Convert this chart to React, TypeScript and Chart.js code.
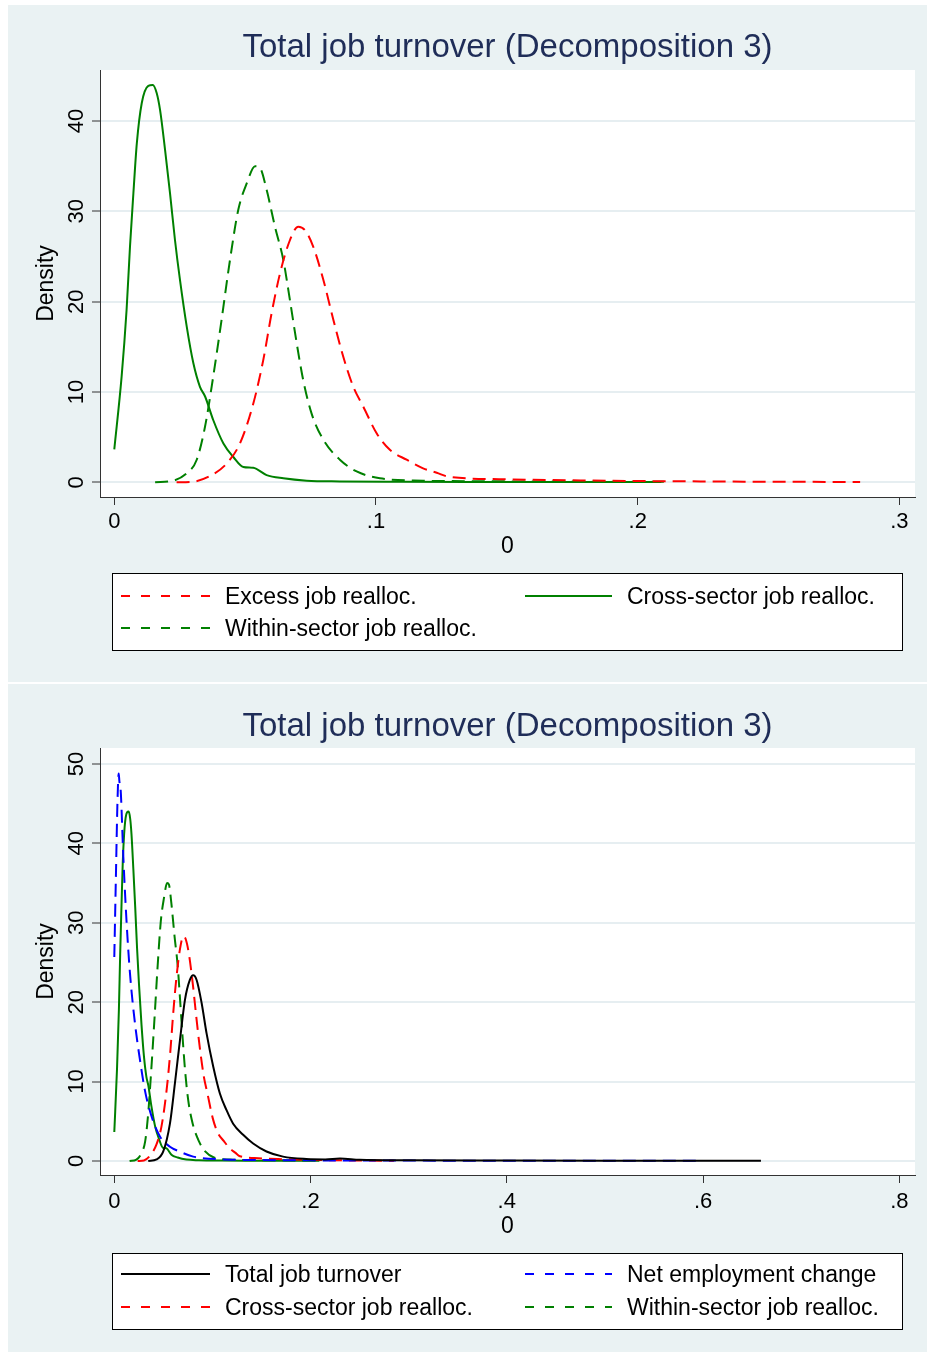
import React, { useEffect, useRef } from 'react';
import { Chart, registerables } from 'chart.js';

Chart.register(...registerables);

const FONT = "'Liberation Sans', Arial, Helvetica, sans-serif";
const TITLE = 'Total job turnover (Decomposition 3)';
const Y_TITLE = 'Density';
const X_TITLE = '0';

// ---- Cross-sector job realloc. (green solid) ----
const crossX = [0, 0.0028, 0.0047, 0.006, 0.0073, 0.0086, 0.0105, 0.013, 0.0147, 0.0162, 0.0175, 0.0194, 0.0213, 0.0232, 0.0251, 0.0277, 0.0302, 0.0327, 0.0347, 0.0378, 0.0417, 0.0455, 0.0493, 0.0531, 0.0582, 0.0646, 0.0735, 0.0862, 0.11, 0.14, 0.17, 0.209];
const crossY = [3.65, 11.7, 19.1, 26.1, 32, 37.5, 42, 43.9, 44.0, 43.1, 41.2, 36.8, 32, 26.8, 22.4, 17.2, 13.2, 10.6, 9.5, 6.9, 4.3, 2.8, 1.7, 1.6, 0.8, 0.44, 0.18, 0.1, 0.06, 0.04, 0.03, 0.02];

// ---- Within-sector job realloc. (green dashed) ----
const withinX = [0.0156, 0.0225, 0.0277, 0.0315, 0.0347, 0.0378, 0.041, 0.0442, 0.0474, 0.0506, 0.0538, 0.0557, 0.0582, 0.0614, 0.0646, 0.0671, 0.0697, 0.0722, 0.0754, 0.0799, 0.0862, 0.0926, 0.1015, 0.118, 0.14, 0.17, 0.21];
const withinY = [0, 0.18, 1.0, 2.5, 6.2, 11.7, 18, 24.6, 30.2, 33.1, 35, 34.8, 32.4, 28.3, 24.6, 20.2, 15.4, 11.3, 7.6, 4.7, 2.5, 1.2, 0.44, 0.18, 0.12, 0.08, 0.05];

// ---- Excess job realloc. (red dashed) ----
const excessX = [0.0238, 0.0302, 0.0366, 0.043, 0.048, 0.0531, 0.0569, 0.0601, 0.0633, 0.0671, 0.0703, 0.0729, 0.076, 0.0799, 0.0837, 0.0875, 0.0913, 0.0951, 0.1003, 0.1053, 0.1117, 0.118, 0.1232, 0.128, 0.147, 0.167, 0.2, 0.224, 0.25, 0.285];
const excessY = [0, 0.07, 0.7, 2.1, 4.3, 8.7, 13.5, 18.7, 23.1, 26.8, 28.3, 27.9, 26.1, 22.4, 18, 13.9, 10.6, 8.4, 5.4, 3.6, 2.5, 1.55, 1.06, 0.6, 0.35, 0.25, 0.14, 0.1, 0.06, 0.04];

// ---- Total job turnover (black solid) ----
const totalX = [0.0346, 0.0431, 0.0499, 0.0567, 0.0618, 0.0669, 0.072, 0.077, 0.0804, 0.0839, 0.089, 0.094, 0.1008, 0.1076, 0.1144, 0.1211, 0.1313, 0.1415, 0.1551, 0.172, 0.1958, 0.215, 0.23, 0.25, 0.3, 0.4, 0.5, 0.6, 0.659];
const totalY = [0, 0.2, 1.2, 4.7, 9.8, 15.2, 20.3, 22.8, 23.4, 22.8, 19.9, 16.1, 11.9, 8.5, 6.4, 4.7, 3.3, 2.2, 1.2, 0.55, 0.25, 0.2, 0.3, 0.15, 0.08, 0.05, 0.04, 0.03, 0.02];

// ---- Net employment change (blue dashed) ----
const netX = [0, 0.0017, 0.0031, 0.0045, 0.0052, 0.0065, 0.0092, 0.0126, 0.016, 0.0211, 0.0262, 0.0312, 0.038, 0.0465, 0.0567, 0.0669, 0.0804, 0.111, 0.15, 0.2, 0.3, 0.4, 0.5, 0.596];
const netY = [25.7, 36.2, 44.6, 48.8, 47.8, 46.7, 38.3, 29.9, 23.6, 17.3, 12.7, 8.9, 5.6, 3.1, 1.8, 1.17, 0.55, 0.2, 0.12, 0.08, 0.05, 0.04, 0.03, 0.02];

// ---- Ticks ----
const topXTicks = [0, 0.1, 0.2, 0.3];
const topXTickLabels = ['0', '.1', '.2', '.3'];
const topYTicks = [0, 10, 20, 30, 40];
const topYTickLabels = ['0', '10', '20', '30', '40'];
const botXTicks = [0, 0.2, 0.4, 0.6, 0.8];
const botXTickLabels = ['0', '.2', '.4', '.6', '.8'];
const botYTicks = [0, 10, 20, 30, 40, 50];
const botYTickLabels = ['0', '10', '20', '30', '40', '50'];

const RED = '#FF0000';
const GREEN = '#008000';
const BLUE = '#0000FF';
const BLACK = '#000000';
const BG = '#EAF2F3';
const GRID = '#E6EEF1';
const AXIS = '#333333';
const TITLE_COLOR = '#1F2D58';

type Series = { label: string; xs: number[]; ys: number[]; color: string; dashed: boolean };
type LegendItem = { series: number; col: number; row: number };

type PanelProps = {
  left: number;
  top: number;
  width: number;
  height: number;
  series: Series[];
  legend: LegendItem[];
  xMin: number;
  xMax: number;
  yMin: number;
  yMax: number;
  xTicks: number[];
  xTickLabels: string[];
  yTicks: number[];
  yTickLabels: string[];
  areaTop: number;
  areaBottom: number;
  tickBase: number;
  xTitleBase: number;
  legendTop: number;
  legendBottom: number;
  rowLineY: number[];
};

const AREA_LEFT = 92;
const AREA_RIGHT = 907;
const XAXIS_H = 60;

function Panel(p: PanelProps) {
  const ref = useRef<HTMLCanvasElement | null>(null);

  useEffect(() => {
    const canvas = ref.current;
    if (!canvas) return;

    const panelPlugin = {
      id: 'panelDeco',
      beforeDraw(chart: any) {
        const { ctx, chartArea: a } = chart;
        ctx.save();
        ctx.fillStyle = BG;
        ctx.fillRect(0, 0, chart.width, chart.height);
        ctx.fillStyle = '#FFFFFF';
        ctx.fillRect(a.left, a.top, a.right - a.left, a.bottom - a.top);
        ctx.restore();
      },
      afterDraw(chart: any) {
        const { ctx, chartArea: a, scales } = chart;
        const xs = scales.x;
        const ys = scales.y;
        ctx.save();
        // Title
        ctx.fillStyle = TITLE_COLOR;
        ctx.font = `33px ${FONT}`;
        ctx.textAlign = 'center';
        ctx.textBaseline = 'alphabetic';
        ctx.fillText(TITLE, (a.left + a.right) / 2, 52);

        // Y tick labels (rotated)
        ctx.fillStyle = '#000000';
        ctx.font = `22px ${FONT}`;
        p.yTicks.forEach((v, i) => {
          const y = ys.getPixelForValue(v);
          ctx.save();
          ctx.translate(75, y);
          ctx.rotate(-Math.PI / 2);
          ctx.textAlign = 'center';
          ctx.textBaseline = 'alphabetic';
          ctx.fillText(p.yTickLabels[i], 0, 0);
          ctx.restore();
        });
        // Y title
        ctx.save();
        ctx.font = `23px ${FONT}`;
        ctx.translate(45, (a.top + a.bottom) / 2);
        ctx.rotate(-Math.PI / 2);
        ctx.textAlign = 'center';
        ctx.textBaseline = 'alphabetic';
        ctx.fillText(Y_TITLE, 0, 0);
        ctx.restore();

        // X tick labels
        ctx.font = `22px ${FONT}`;
        ctx.textAlign = 'center';
        ctx.textBaseline = 'alphabetic';
        p.xTicks.forEach((v, i) => {
          ctx.fillText(p.xTickLabels[i], xs.getPixelForValue(v), p.tickBase);
        });
        // X title
        ctx.font = `23px ${FONT}`;
        ctx.fillText(X_TITLE, (a.left + a.right) / 2, p.xTitleBase);

        // Legend box
        ctx.fillStyle = '#FFFFFF';
        ctx.fillRect(104, p.legendTop, 790, p.legendBottom - p.legendTop);
        ctx.strokeStyle = '#000000';
        ctx.lineWidth = 1;
        ctx.strokeRect(104.5, p.legendTop + 0.5, 790, p.legendBottom - p.legendTop);

        const colLine = [
          [113, 202],
          [517, 604],
        ];
        const colText = [217, 619];
        p.legend.forEach((it) => {
          const s = p.series[it.series];
          const ly = p.rowLineY[it.row];
          ctx.save();
          ctx.strokeStyle = s.color;
          ctx.lineWidth = 2;
          ctx.setLineDash(s.dashed ? [9, 11] : []);
          ctx.beginPath();
          ctx.moveTo(colLine[it.col][0], ly);
          ctx.lineTo(colLine[it.col][1], ly);
          ctx.stroke();
          ctx.restore();
          ctx.fillStyle = '#000000';
          ctx.font = `23px ${FONT}`;
          ctx.textAlign = 'left';
          ctx.textBaseline = 'alphabetic';
          ctx.fillText(s.label, colText[it.col], ly + 8);
        });
        ctx.restore();
      },
    };

    const chart = new Chart(canvas, {
      type: 'line',
      data: {
        datasets: p.series.map((s) => ({
          label: s.label,
          data: s.xs.map((x, i) => ({ x, y: s.ys[i] })),
          borderColor: s.color,
          backgroundColor: s.color,
          borderWidth: 2,
          borderDash: s.dashed ? [13, 7] : [],
          pointRadius: 0,
          pointHoverRadius: 0,
          fill: false,
          cubicInterpolationMode: 'monotone',
          tension: 0.4,
        })),
      },
      options: {
        responsive: false,
        animation: false,
        events: [],
        parsing: false as any,
        layout: {
          padding: {
            top: p.areaTop,
            left: 0,
            right: p.width - AREA_RIGHT,
            bottom: p.height - p.areaBottom - XAXIS_H,
          },
        },
        plugins: {
          legend: { display: false },
          title: { display: false },
          tooltip: { enabled: false },
        },
        scales: {
          x: {
            type: 'linear',
            min: p.xMin,
            max: p.xMax,
            afterBuildTicks: (s: any) => {
              s.ticks = p.xTicks.map((v) => ({ value: v }));
            },
            afterFit: (s: any) => {
              s.height = XAXIS_H;
            },
            ticks: { display: false },
            grid: {
              display: true,
              drawOnChartArea: false,
              drawTicks: true,
              tickLength: 8,
              tickColor: AXIS,
              tickWidth: 1,
            },
            border: { display: true, color: AXIS, width: 1 },
          },
          y: {
            type: 'linear',
            min: p.yMin,
            max: p.yMax,
            afterBuildTicks: (s: any) => {
              s.ticks = p.yTicks.map((v) => ({ value: v }));
            },
            afterFit: (s: any) => {
              s.width = AREA_LEFT;
            },
            ticks: { display: false },
            grid: {
              display: true,
              drawOnChartArea: true,
              drawTicks: true,
              color: GRID,
              lineWidth: 2,
              tickLength: 8,
              tickColor: AXIS,
              tickWidth: 1,
            },
            border: { display: true, color: AXIS, width: 1 },
          },
        },
      } as any,
      plugins: [panelPlugin as any],
    });

    return () => {
      chart.destroy();
    };
  }, []);

  return (
    <canvas
      ref={ref}
      width={p.width}
      height={p.height}
      style={{ position: 'absolute', left: p.left, top: p.top, width: p.width, height: p.height, display: 'block' }}
    />
  );
}

const topSeries: Series[] = [
  { label: 'Excess job realloc.', xs: excessX, ys: excessY, color: RED, dashed: true },
  { label: 'Cross-sector job realloc.', xs: crossX, ys: crossY, color: GREEN, dashed: false },
  { label: 'Within-sector job realloc.', xs: withinX, ys: withinY, color: GREEN, dashed: true },
];

const botSeries: Series[] = [
  { label: 'Total job turnover', xs: totalX, ys: totalY, color: BLACK, dashed: false },
  { label: 'Net employment change', xs: netX, ys: netY, color: BLUE, dashed: true },
  { label: 'Cross-sector job realloc.', xs: excessX, ys: excessY, color: RED, dashed: true },
  { label: 'Within-sector job realloc.', xs: withinX, ys: withinY, color: GREEN, dashed: true },
  { label: '', xs: crossX, ys: crossY, color: GREEN, dashed: false },
];

export default function App() {
  return (
    <div style={{ position: 'absolute', left: 0, top: 0, width: 927, height: 1352, background: '#FFFFFF' }}>
      <Panel
        left={8}
        top={5}
        width={919}
        height={677}
        series={topSeries}
        legend={[
          { series: 0, col: 0, row: 0 },
          { series: 1, col: 1, row: 0 },
          { series: 2, col: 0, row: 1 },
        ]}
        xMin={-0.00546}
        xMax={0.30596}
        yMin={-1.627}
        yMax={45.65}
        xTicks={topXTicks}
        xTickLabels={topXTickLabels}
        yTicks={topYTicks}
        yTickLabels={topYTickLabels}
        areaTop={65}
        areaBottom={492}
        tickBase={523}
        xTitleBase={548}
        legendTop={568}
        legendBottom={645}
        rowLineY={[591, 623]}
      />
      <Panel
        left={8}
        top={684}
        width={919}
        height={668}
        series={botSeries}
        legend={[
          { series: 0, col: 0, row: 0 },
          { series: 1, col: 1, row: 0 },
          { series: 2, col: 0, row: 1 },
          { series: 3, col: 1, row: 1 },
        ]}
        xMin={-0.01457}
        xMax={0.816}
        yMin={-1.763}
        yMax={52.01}
        xTicks={botXTicks}
        xTickLabels={botXTickLabels}
        yTicks={botYTicks}
        yTickLabels={botYTickLabels}
        areaTop={64}
        areaBottom={491}
        tickBase={524}
        xTitleBase={549}
        legendTop={569}
        legendBottom={645}
        rowLineY={[590, 623]}
      />
    </div>
  );
}
